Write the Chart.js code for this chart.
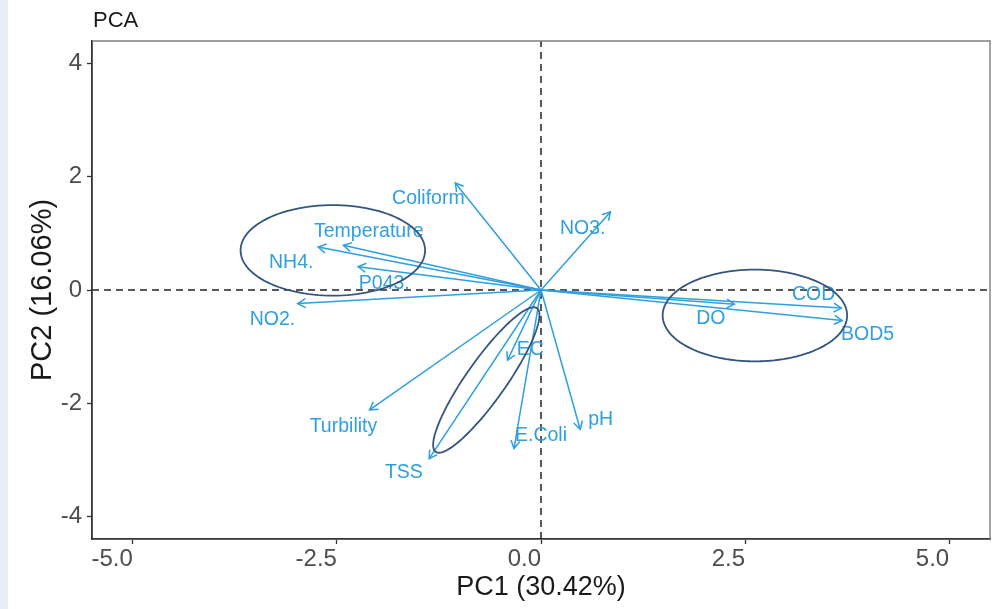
<!DOCTYPE html>
<html>
<head>
<meta charset="utf-8">
<title>PCA</title>
<script src="https://cdn.jsdelivr.net/npm/chart.js"></script>
<style>
  html, body { margin: 0; padding: 0; background: #e9edf7; }
  #wrap { position: absolute; left: 8px; top: 0; width: 992px; height: 609px; background: #fff; }
  canvas { display: block; }
</style>
</head>
<body>
<div id="wrap"><canvas id="pca" width="992" height="609"></canvas></div>
<script>
// variable loadings (arrow tips) on PC1 / PC2
const varNames = ['Coliform', 'Temperature', 'NH4.', 'P043.', 'NO2.', 'NO3.', 'COD', 'BOD5', 'DO', 'EC', 'E.Coli', 'pH', 'Turbility', 'TSS'];
const pc1 = [-1.05, -2.42, -2.73, -2.24, -2.98, 0.85, 3.68, 3.69, 2.37, -0.41, -0.33, 0.48, -2.10, -1.37];
const pc2 = [1.89, 0.79, 0.76, 0.41, -0.24, 1.38, -0.32, -0.54, -0.25, -1.24, -2.80, -2.46, -2.12, -2.98];

// where each label sits (data units)
const labelX = [-1.38, -2.11, -3.06, -1.92, -3.29, 0.51, 3.34, 4.00, 2.08, -0.13, 0.00, 0.73, -2.42, -1.68];
const labelY = [1.61, 1.04, 0.49, 0.12, -0.53, 1.09, -0.09, -0.78, -0.51, -1.06, -2.58, -2.29, -2.42, -3.23];

// group ellipses: centre and two conjugate semi-axes (data units)
const ellCx = [-2.55, 2.62, -0.67];
const ellCy = [0.70, -0.45, -1.59];
const ellUx = [1.13, 1.13, 0.62];
const ellUy = [0.00, 0.00, 1.27];
const ellVx = [0.00, 0.00, 0.20];
const ellVy = [0.80, 0.81, -0.20];

const xTicks = [-5, -2.5, 0, 2.5, 5];
const yTicks = [-4, -2, 0, 2, 4];
const xLimits = [-5.5, 5.5];
const yLimits = [-4.4, 4.4];

const ARROW = '#2E9FDF';
const ELLIPSE = '#34557f';
const FONT = "'Liberation Sans', Arial, sans-serif";

const datasets = [];
// dashed zero lines
datasets.push({
  data: [{ x: xLimits[0], y: 0 }, { x: xLimits[1], y: 0 }],
  showLine: true, pointRadius: 0, borderColor: '#222', borderWidth: 1.5,
  borderDash: [7, 5], order: 10
});
datasets.push({
  data: [{ x: 0, y: yLimits[0] }, { x: 0, y: yLimits[1] }],
  showLine: true, pointRadius: 0, borderColor: '#222', borderWidth: 1.5,
  borderDash: [7, 5], order: 10
});
// arrows
pc1.forEach((v, i) => {
  datasets.push({
    label: varNames[i],
    data: [{ x: 0, y: 0 }, { x: v, y: pc2[i] }],
    showLine: true, pointRadius: 0, borderColor: ARROW, borderWidth: 1.5, order: 1
  });
});

const biplotExtras = {
  id: 'biplotExtras',
  afterDatasetsDraw(chart) {
    const { ctx, chartArea } = chart;
    const sx = chart.scales.x, sy = chart.scales.y;
    ctx.save();

    // arrow heads
    ctx.strokeStyle = ARROW;
    ctx.lineWidth = 1.5;
    const x0 = sx.getPixelForValue(0), y0 = sy.getPixelForValue(0);
    pc1.forEach((v, i) => {
      const x1 = sx.getPixelForValue(v), y1 = sy.getPixelForValue(pc2[i]);
      const a = Math.atan2(y1 - y0, x1 - x0);
      const len = 9, w = Math.PI / 6;
      ctx.beginPath();
      ctx.moveTo(x1 - len * Math.cos(a - w), y1 - len * Math.sin(a - w));
      ctx.lineTo(x1, y1);
      ctx.lineTo(x1 - len * Math.cos(a + w), y1 - len * Math.sin(a + w));
      ctx.stroke();
    });

    // labels
    ctx.fillStyle = ARROW;
    ctx.font = '19.5px ' + FONT;
    ctx.textAlign = 'center';
    ctx.textBaseline = 'middle';
    varNames.forEach((n, i) => {
      ctx.fillText(n, sx.getPixelForValue(labelX[i]), sy.getPixelForValue(labelY[i]));
    });

    // ellipses
    ctx.strokeStyle = ELLIPSE;
    ctx.lineWidth = 1.8;
    ellCx.forEach((cx, k) => {
      ctx.beginPath();
      for (let s = 0; s <= 120; s++) {
        const t = s / 120 * Math.PI * 2;
        const px = sx.getPixelForValue(cx + Math.cos(t) * ellUx[k] + Math.sin(t) * ellVx[k]);
        const py = sy.getPixelForValue(ellCy[k] + Math.cos(t) * ellUy[k] + Math.sin(t) * ellVy[k]);
        if (s === 0) ctx.moveTo(px, py); else ctx.lineTo(px, py);
      }
      ctx.closePath();
      ctx.stroke();
    });

    // top and right panel border
    ctx.strokeStyle = '#7f7f7f';
    ctx.lineWidth = 1.4;
    ctx.beginPath();
    ctx.moveTo(chartArea.left, chartArea.top);
    ctx.lineTo(chartArea.right, chartArea.top);
    ctx.lineTo(chartArea.right, chartArea.bottom);
    ctx.stroke();
    ctx.restore();
  },
  afterDraw(chart) {
    const ctx = chart.ctx;
    ctx.save();
    ctx.fillStyle = '#1a1a1a';
    ctx.font = '22px ' + FONT;
    ctx.textAlign = 'left';
    ctx.textBaseline = 'alphabetic';
    ctx.fillText('PCA', chart.chartArea.left + 1, 27);
    ctx.restore();
  }
};

new Chart(document.getElementById('pca'), {
  type: 'scatter',
  data: { datasets: datasets },
  options: {
    responsive: false,
    animation: false,
    layout: { padding: { left: 0, right: 10, top: 41, bottom: 0 } },
    plugins: { legend: { display: false }, tooltip: { enabled: false }, title: { display: false } },
    scales: {
      x: {
        type: 'linear', min: xLimits[0], max: xLimits[1],
        afterBuildTicks: s => { s.ticks = xTicks.map(v => ({ value: v })); },
        afterFit: s => { s.height = 70; },
        ticks: {
          callback: v => Number(v).toFixed(1), align: 'end', padding: 1,
          color: '#4d4d4d', font: { family: FONT, size: 24 }
        },
        grid: { drawOnChartArea: false, drawTicks: true, tickLength: 5, tickColor: '#333', tickWidth: 1.3 },
        border: { color: '#333', width: 1.8 },
        title: { display: true, text: 'PC1 (30.42%)', color: '#1a1a1a', font: { family: FONT, size: 27 }, padding: { top: 0, bottom: 5 } }
      },
      y: {
        type: 'linear', min: yLimits[0], max: yLimits[1],
        afterBuildTicks: s => { s.ticks = yTicks.map(v => ({ value: v })); },
        afterFit: s => { s.width = 84; },
        ticks: {
          callback: v => String(v), padding: 5,
          color: '#4d4d4d', font: { family: FONT, size: 24 }
        },
        grid: { drawOnChartArea: false, drawTicks: true, tickLength: 5, tickColor: '#333', tickWidth: 1.3 },
        border: { color: '#333', width: 1.8 },
        title: { display: true, text: 'PC2 (16.06%)', color: '#1a1a1a', font: { family: FONT, size: 29 }, padding: { top: 18, bottom: 0 } }
      }
    }
  },
  plugins: [biplotExtras]
});
</script>
</body>
</html>
